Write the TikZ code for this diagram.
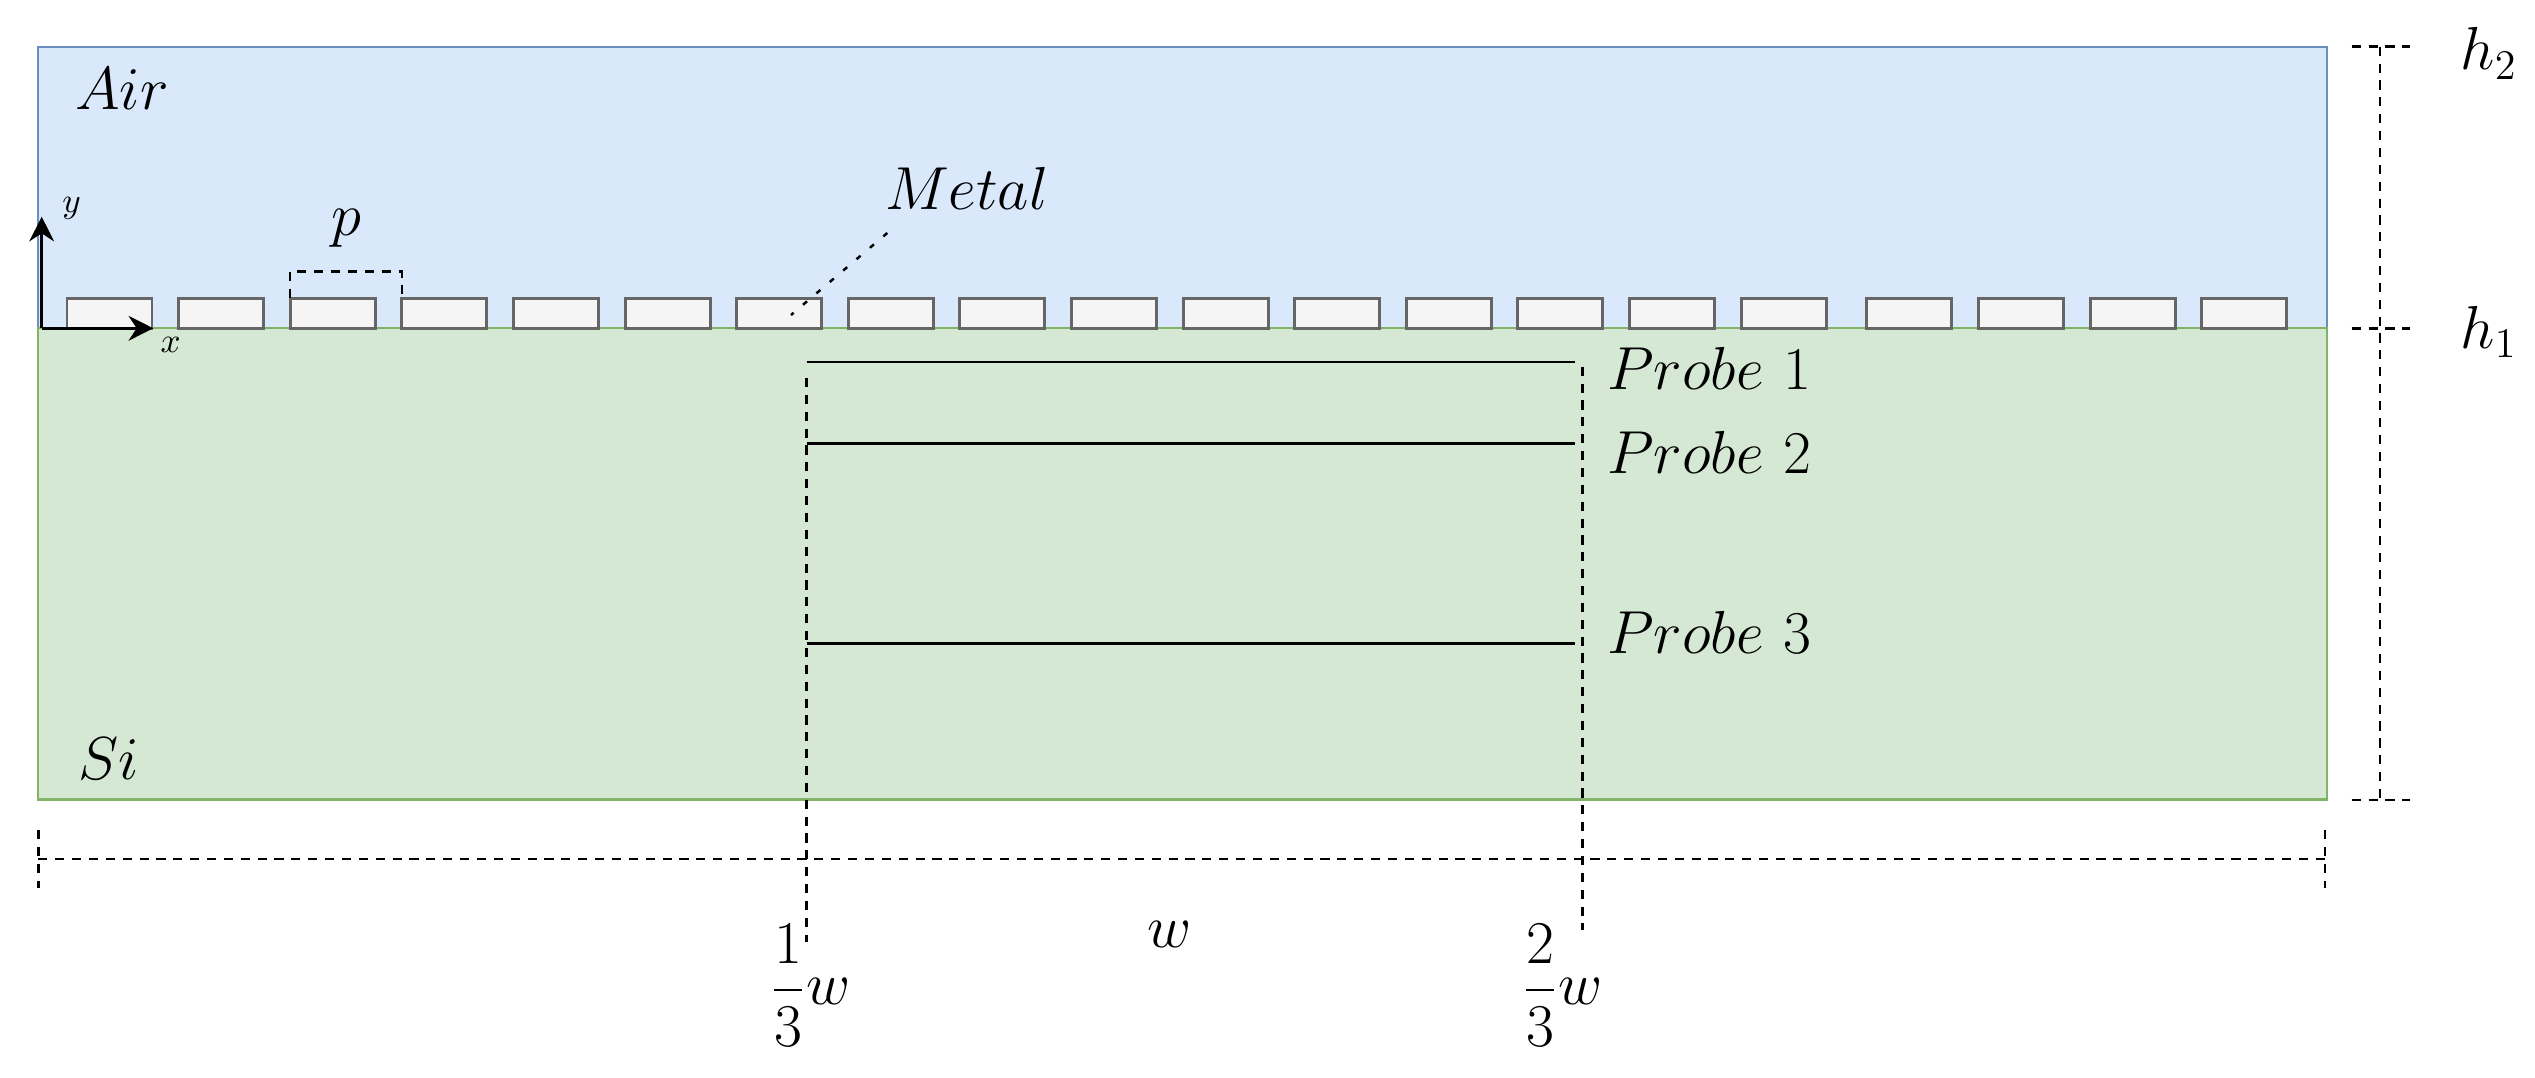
\documentclass[tikz,border=0pt]{standalone}
\usepackage{amsmath}
\usetikzlibrary{arrows.meta}

\definecolor{airfill}{HTML}{DAE8FC}
\definecolor{airline}{HTML}{6C8EBF}
\definecolor{sifill}{HTML}{D5E8D4}
\definecolor{siline}{HTML}{82B366}
\definecolor{metalfill}{HTML}{F5F5F5}
\definecolor{metalline}{HTML}{666666}

\tikzset{
  dimline/.style={line width=0.7pt, dash pattern=on 2.6pt off 2.2pt},
  leader/.style={line width=0.7pt, dash pattern=on 1.5pt off 3.5pt},
  lbl/.style={inner sep=0pt, font=\fontsize{18.5}{22}\selectfont},
  axislbl/.style={inner sep=0pt, font=\fontsize{10}{12}\selectfont},
  metalbox/.style={fill=metalfill, draw=metalline, line width=0.85pt},
}

\begin{document}
\begin{tikzpicture}
    \useasboundingbox (-0.383,-7.497) rectangle (24.967,3.283);

    % Layers
    \filldraw[fill=airfill, draw=airline, line width=0.6pt] (0,0) rectangle (22.89,2.816);
    \filldraw[fill=sifill, draw=siline, line width=0.6pt] (0,-4.712) rectangle (22.89,0);

    \node[lbl, anchor=base west] (air) at (0.363,2.183) {$Air$};
    \node[lbl, anchor=base west] (si) at (0.392,-4.517) {$Si$};

    % Metal grating
    \foreach \i in {0,...,15}
        \draw[metalbox] ({0.287+1.116*\i},0) rectangle ++(0.85,0.3);
    \foreach \i in {0,...,3}
        \draw[metalbox] ({18.285+1.116*\i},0) rectangle ++(0.85,0.3);

    % Axes
    \coordinate (origin) at (0.034,0);
    \coordinate (xtip) at (1.15,0);
    \coordinate (ytip) at (0.034,1.116);
    \draw[line width=1pt, -{Stealth[length=7pt,width=7pt]}] (origin) -- (xtip);
    \draw[line width=1pt, -{Stealth[length=7pt,width=7pt]}] (origin) -- (ytip);
    \node[axislbl, anchor=base west] (xlbl) at (1.217,-0.247) {$x$};
    \node[axislbl, anchor=base west] (ylbl) at (0.234,1.153) {$y$};

    % Period
    \coordinate (pa) at (2.519,0.3);
    \coordinate (pb) at (3.635,0.3);
    \draw[dimline] (pa) -- ++(0,0.266) -| (pb);
    \node[lbl] (plbl) at (3.08,1.0) {$p$};

    % Metal label
    \node[lbl, anchor=base west] (metal) at (8.46,1.183) {$Metal$};
    \coordinate (metaltip) at (7.527,0.133);
    \draw[leader] ([shift={(0.03,-0.23)}]metal.base west) -- (metaltip);

    % Probes
    \coordinate (p1l) at (7.684,-0.337);
    \coordinate (p1r) at (15.367,-0.337);
    \coordinate (p2l) at (7.684,-1.15);
    \coordinate (p2r) at (15.367,-1.15);
    \coordinate (p3l) at (7.684,-3.15);
    \coordinate (p3r) at (15.367,-3.15);
    \draw[line width=0.8pt] (p1l) -- (p1r);
    \draw[line width=0.8pt] (p2l) -- (p2r);
    \draw[line width=0.8pt] (p3l) -- (p3r);
    \node[lbl, anchor=base west] (probeone) at (15.684,-0.617) {$Probe\ 1$};
    \node[lbl, anchor=base west] (probetwo) at (15.684,-1.45) {$Probe\ 2$};
    \node[lbl, anchor=base west] (probethree) at (15.684,-3.25) {$Probe\ 3$};

    % Probe span
    \coordinate (lefttop) at (7.682,-0.497);
    \coordinate (leftbot) at (7.682,-6.134);
    \coordinate (righttop) at (15.44,-0.384);
    \coordinate (rightbot) at (15.44,-6.017);
    \draw[dimline] (lefttop) -- (leftbot);
    \draw[dimline] (righttop) -- (rightbot);
    \node[lbl, anchor=base] (third) at (7.717,-6.767) {$\dfrac{1}{3}w$};
    \node[lbl, anchor=base] (twothirds) at (15.24,-6.767) {$\dfrac{2}{3}w$};

    % Width
    \coordinate (wl) at (0,-5.307);
    \coordinate (wr) at (22.867,-5.307);
    \draw[dimline] (wl) -- (wr);
    \draw[dimline] ([yshift=0.29cm]wl) -- ([yshift=-0.29cm]wl);
    \draw[dimline] ([yshift=0.29cm]wr) -- ([yshift=-0.29cm]wr);
    \node[lbl, anchor=base west] (wlbl) at (11.084,-6.197) {$w$};

    % Heights
    \coordinate (htop) at (23.417,2.816);
    \coordinate (hmid) at (23.417,0);
    \coordinate (hbot) at (23.417,-4.717);
    \draw[dimline] (htop) -- (hbot);
    \draw[dimline] ([xshift=-0.283cm]htop) -- ([xshift=0.3cm]htop);
    \draw[dimline] ([xshift=-0.283cm]hmid) -- ([xshift=0.3cm]hmid);
    \draw[dimline] ([xshift=-0.283cm]hbot) -- ([xshift=0.3cm]hbot);
    \node[lbl, anchor=base west] (htwo) at (24.217,2.583) {$h_2$};
    \node[lbl, anchor=base west] (hone) at (24.217,-0.2) {$h_1$};
\end{tikzpicture}
\end{document}
